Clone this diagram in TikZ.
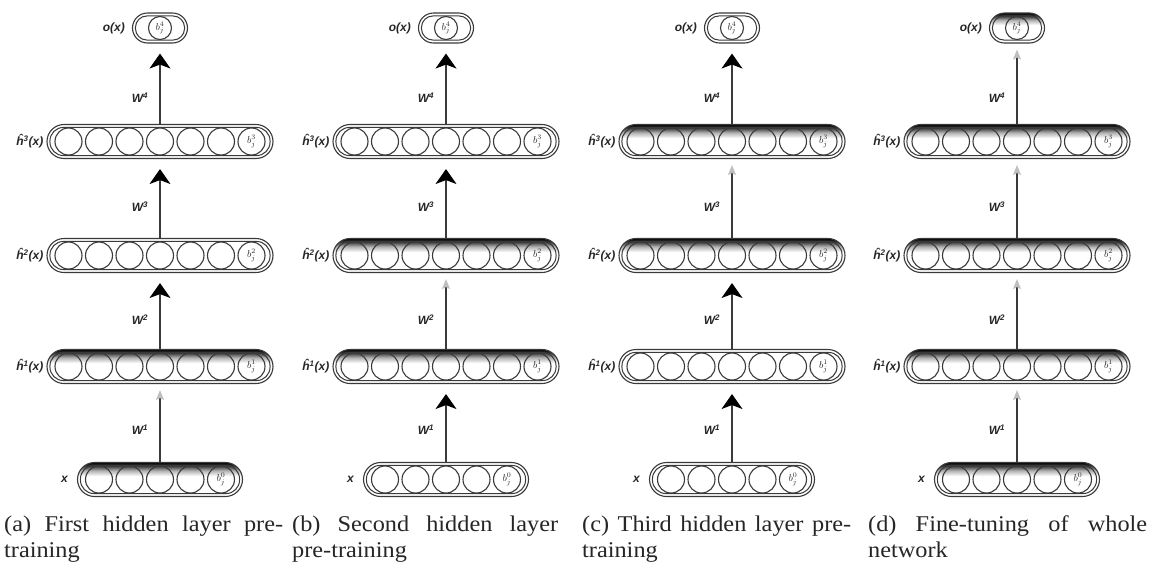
\documentclass[tikz,border=0pt]{standalone}
\usepackage{fontspec}
\setmainfont{Liberation Serif}
\newfontfamily\lblfont{Liberation Sans}
\newfontfamily\capfont[FakeStretch=1.08]{Liberation Serif}
\usetikzlibrary{arrows.meta}

\definecolor{ink}{HTML}{3A3A3A}
\definecolor{txt}{HTML}{262626}

% dark band along the top of a trained layer, fading to white
\pgfdeclareverticalshading{topdark}{100bp}{color(0bp)=(white); color(55bp)=(white); color(63bp)=(black!30); color(70bp)=(black!78); color(75bp)=(black); color(100bp)=(black)}

\tikzset{
  layerbox/.style={rectangle, draw=ink, line width=1.1pt, rounded corners=17pt, minimum height=34pt, inner sep=0pt},
  innerline/.style={draw=ink, line width=1pt, rounded corners=13.5pt},
  shadedrow/.style={shading=topdark},
  clearrow/.style={},
  unit/.style={circle, draw=ink, line width=1.1pt, minimum size=27pt, inner sep=0pt, font=\fontsize{10}{10}\selectfont, text=txt},
  lbl/.style={font=\lblfont\bfseries\itshape\fontsize{12}{12}\selectfont, text=txt, inner sep=0pt},
  act/.style={draw=ink, line width=1.1pt, shorten >=10pt, -{Stealth[length=15pt, width=21pt, inset=4pt, color=black]}},
  idle/.style={draw=ink, line width=1.1pt, shorten >=6pt, -{Stealth[length=10pt, width=8pt, inset=2pt, color=black!25]}},
  captext/.style={font=\capfont\fontsize{22.5}{26}\selectfont, text=txt, inner sep=0pt, anchor=base west},
}

% a row of units: name, centre x, centre y, number of units, fill style, bias index
\newcommand\unitrow[6]{%
  \pgfmathsetmacro\rowwidth{(#4-1)*30.5+43}%
  \pgfmathtruncatemacro\lastunit{#4-1}%
  \node[layerbox,#5,minimum width=\rowwidth pt] (#1) at (#2,#3) {};
  \draw[innerline] ([shift={(3.5pt,-3.5pt)}]#1.north west) rectangle ([shift={(-3.5pt,3.5pt)}]#1.south east);
  \foreach \k in {1,...,\lastunit}{\node[unit] (#1-\k) at ([xshift={(\k-(#4+1)/2)*30.5pt}]#1.center) {};}
  \node[unit] (#1-#4) at ([xshift={(#4-1)/2*30.5pt}]#1.center) {$b^{#6}_{j}$};
}

% the single output unit: name, centre x, centre y, fill style
\newcommand\outbox[4]{%
  \node[layerbox,#4,minimum width=55pt,minimum height=30pt,rounded corners=15pt] (#1) at (#2,#3) {};
  \draw[innerline, rounded corners=11.5pt] ([shift={(3.5pt,-3.5pt)}]#1.north west) rectangle ([shift={(-3.5pt,3.5pt)}]#1.south east);
  \node[unit, minimum size=23pt] (#1-1) at (#1) {$b^{4}_{j}$};
}

% one network: panel id, centre x, fill styles of x, h1, h2, h3, o
\newcommand\layers[7]{%
  \unitrow{#1x}{#2}{479.5}{5}{#3}{0}%
  \unitrow{#1h1}{#2}{366.5}{7}{#4}{1}%
  \unitrow{#1h2}{#2}{255.5}{7}{#5}{2}%
  \unitrow{#1h3}{#2}{141.5}{7}{#6}{3}%
  \outbox{#1o}{#2}{28}{#7}%
  \node[lbl, anchor=east] (#1xl) at ([xshift=-9pt]#1x.west) {x};
  \node[lbl, anchor=east] (#1h1l) at ([xshift=-3pt]#1h1.west) {ĥ\textsuperscript{1}(x)};
  \node[lbl, anchor=east] (#1h2l) at ([xshift=-3pt]#1h2.west) {ĥ\textsuperscript{2}(x)};
  \node[lbl, anchor=east] (#1h3l) at ([xshift=-3pt]#1h3.west) {ĥ\textsuperscript{3}(x)};
  \node[lbl, anchor=east] (#1ol) at ([xshift=-7pt]#1o.west) {o(x)};
  \node[lbl] (#1w1) at (#2-20,430) {W\textsuperscript{1}};
  \node[lbl] (#1w2) at (#2-20,320) {W\textsuperscript{2}};
  \node[lbl] (#1w3) at (#2-20,207) {W\textsuperscript{3}};
  \node[lbl] (#1w4) at (#2-20,98) {W\textsuperscript{4}};
}

% connections of one network: panel id, styles of W1..W4
\newcommand\links[5]{%
  \draw[#2] (#1x.north) -- (#1h1.south);
  \draw[#3] (#1h1.north) -- (#1h2.south);
  \draw[#4] (#1h2.north) -- (#1h3.south);
  \draw[#5] (#1h3.north) -- (#1o.south);
}

\begin{document}
\begin{tikzpicture}[x=1pt, y=-1pt]
  \useasboundingbox (0,0) rectangle (1149,568);
  \fill[white] (0,0) rectangle (1149,568);

  \layers{a}{160}{shadedrow}{shadedrow}{clearrow}{clearrow}{clearrow}
  \links{a}{idle}{act}{act}{act}

  \layers{b}{446}{clearrow}{shadedrow}{shadedrow}{clearrow}{clearrow}
  \links{b}{act}{idle}{act}{act}

  \layers{c}{732}{clearrow}{clearrow}{shadedrow}{shadedrow}{clearrow}
  \links{c}{act}{act}{idle}{act}

  \layers{d}{1017}{shadedrow}{shadedrow}{shadedrow}{shadedrow}{shadedrow}
  \links{d}{idle}{idle}{idle}{idle}

  \node[captext] (capa1) at (4,531) {\makebox[279pt][s]{(a) First hidden layer pre-}};
  \node[captext] (capa2) at (4,557) {training};
  \node[captext] (capb1) at (292,531) {\makebox[266pt][s]{(b) Second hidden layer}};
  \node[captext] (capb2) at (292,557) {pre-training};
  \node[captext] (capc1) at (582,531) {\makebox[269pt][s]{(c) Third hidden layer pre-}};
  \node[captext] (capc2) at (582,557) {training};
  \node[captext] (capd1) at (868,531) {\makebox[279pt][s]{(d) Fine-tuning of whole}};
  \node[captext] (capd2) at (868,557) {network};
\end{tikzpicture}
\end{document}
